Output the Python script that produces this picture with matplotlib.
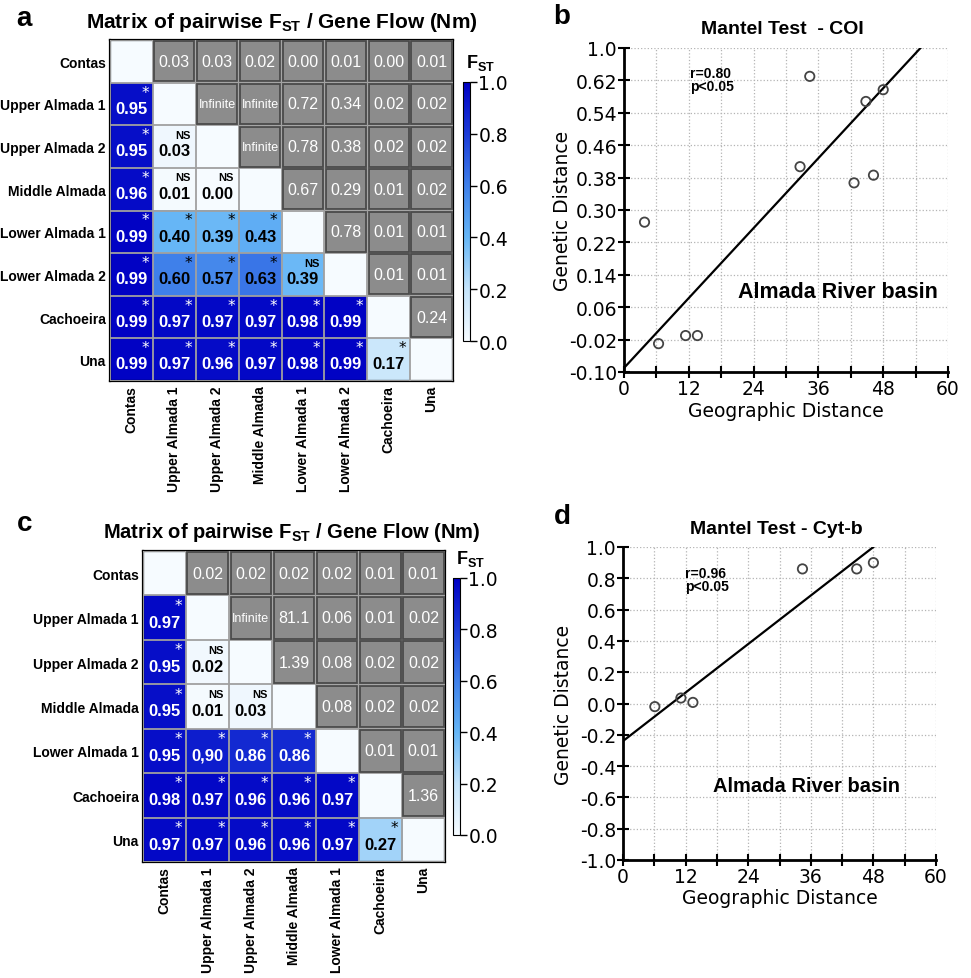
import numpy as np
import matplotlib
matplotlib.use('Agg')
import matplotlib.pyplot as plt
from matplotlib.colors import LinearSegmentedColormap
from matplotlib.patches import Rectangle

# no narrow Arial here, so use Liberation Sans a bit smaller
FAM = 'Liberation Sans'

plt.rcParams['mathtext.fontset'] = 'custom'
plt.rcParams['mathtext.rm'] = 'Liberation Sans'
plt.rcParams['mathtext.bf'] = 'Liberation Sans:bold'

# ---- panel a : COI matrix ----
pops_a = ['Contas', 'Upper Almada 1', 'Upper Almada 2', 'Middle Almada',
          'Lower Almada 1', 'Lower Almada 2', 'Cachoeira', 'Una']
# lower triangle, pairwise FST (row i, columns 0..i-1)
fst_a = [
    [],
    ['0.95'],
    ['0.95', '0.03'],
    ['0.96', '0.01', '0.00'],
    ['0.99', '0.40', '0.39', '0.43'],
    ['0.99', '0.60', '0.57', '0.63', '0.39'],
    ['0.99', '0.97', '0.97', '0.97', '0.98', '0.99'],
    ['0.99', '0.97', '0.96', '0.97', '0.98', '0.99', '0.17'],
]
sig_a = [
    [],
    ['*'],
    ['*', 'NS'],
    ['*', 'NS', 'NS'],
    ['*', '*', '*', '*'],
    ['*', '*', '*', '*', 'NS'],
    ['*', '*', '*', '*', '*', '*'],
    ['*', '*', '*', '*', '*', '*', '*'],
]
# upper triangle, gene flow Nm (row i, columns i+1..n-1)
nm_a = [
    ['0.03', '0.03', '0.02', '0.00', '0.01', '0.00', '0.01'],
    ['Infinite', 'Infinite', '0.72', '0.34', '0.02', '0.02'],
    ['Infinite', '0.78', '0.38', '0.02', '0.02'],
    ['0.67', '0.29', '0.01', '0.02'],
    ['0.78', '0.01', '0.01'],
    ['0.01', '0.01'],
    ['0.24'],
    [],
]

# ---- panel c : Cyt-b matrix ----
pops_c = ['Contas', 'Upper Almada 1', 'Upper Almada 2', 'Middle Almada',
          'Lower Almada 1', 'Cachoeira', 'Una']
fst_c = [
    [],
    ['0.97'],
    ['0.95', '0.02'],
    ['0.95', '0.01', '0.03'],
    ['0.95', '0,90', '0.86', '0.86'],
    ['0.98', '0.97', '0.96', '0.96', '0.97'],
    ['0.97', '0.97', '0.96', '0.96', '0.97', '0.27'],
]
sig_c = [
    [],
    ['*'],
    ['*', 'NS'],
    ['*', 'NS', 'NS'],
    ['*', '*', '*', '*'],
    ['*', '*', '*', '*', '*'],
    ['*', '*', '*', '*', '*', '*'],
]
nm_c = [
    ['0.02', '0.02', '0.02', '0.02', '0.01', '0.01'],
    ['Infinite', '81.1', '0.06', '0.01', '0.02'],
    ['1.39', '0.08', '0.02', '0.02'],
    ['0.08', '0.02', '0.02'],
    ['0.01', '0.01'],
    ['1.36'],
    [],
]

# ---- panel b : Mantel test COI ----
geo_b = [3.8, 6.4, 11.4, 13.6, 32.6, 34.4, 42.6, 44.8, 46.2, 48.0]
gen_b = [0.27, -0.03, -0.01, -0.01, 0.407, 0.63, 0.367, 0.568, 0.386, 0.597]
fit_b_x = [0, 54.9]
fit_b_y = [-0.09, 0.70]
yticks_b = [-0.10, -0.02, 0.06, 0.14, 0.22, 0.30, 0.38, 0.46, 0.54, 0.62, 0.70]
ylabels_b = ['-0.10', '-0.02', '0.06', '0.14', '0.22', '0.30', '0.38',
             '0.46', '0.54', '0.62', '1.0']

# ---- panel d : Mantel test Cyt-b ----
geo_d = [6.1, 11.1, 13.4, 34.4, 44.8, 48.0]
gen_d = [-0.02, 0.035, 0.007, 0.86, 0.86, 0.90]
fit_d_x = [0, 48.0]
fit_d_y = [-0.24, 1.0]
yticks_d = [-1.0, -0.8, -0.6, -0.4, -0.2, 0.0, 0.2, 0.4, 0.6, 0.8, 1.0]
ylabels_d = ['%.1f' % v for v in yticks_d]

cmap = LinearSegmentedColormap.from_list(
    'fst', [(0, '#f6fbff'), (0.2, '#c4e4fb'), (0.4, '#66b6f6'),
            (0.6, '#3f80ea'), (0.8, '#1c3cd8'), (1.0, '#0000c4')])

W, H = 971, 979
fig = plt.figure(figsize=(W / 100, H / 100), dpi=100)


def box(l, t, r, b):
    # pixel box -> figure fraction
    return [l / W, 1 - b / H, (r - l) / W, (b - t) / H]


def draw_matrix(ax, cax, pops, fst, sig, nm):
    n = len(pops)
    mat = np.full((n, n), np.nan)
    for i in range(n):
        mat[i, i] = 0
        for j, s in enumerate(fst[i]):
            mat[i, j] = float(s.replace(',', '.'))
    im = ax.imshow(np.ma.masked_invalid(mat), cmap=cmap, vmin=0, vmax=1,
                   aspect='auto')
    ax.set_facecolor('#d8d8d8')
    ax.set_xticks(np.arange(-0.5, n), minor=True)
    ax.set_yticks(np.arange(-0.5, n), minor=True)
    ax.grid(which='minor', color='#a0a0a0', lw=1.3)
    ax.set_axisbelow(False)
    ax.tick_params(which='both', length=0)
    ax.set_xticks(range(n))
    ax.set_yticks(range(n))
    ax.set_xticklabels(pops, rotation=90, fontsize=10, fontweight='bold', family=FAM)
    ax.set_yticklabels(pops, fontsize=10, fontweight='bold', family=FAM)
    ax.tick_params(axis='both', pad=3)
    for sp in ax.spines.values():
        sp.set_linewidth(1.6)

    for i in range(n):
        for j, s in enumerate(fst[i]):
            v = mat[i, j]
            c = 'white' if v > 0.7 else 'black'
            ax.text(j, i + 0.1, s, ha='center', va='center', color=c,
                    fontsize=12, fontweight='bold', family=FAM)
            if sig[i][j] == '*':
                ax.text(j + 0.32, i - 0.28, '*', ha='center', va='center',
                        color=c, fontsize=11, family='DejaVu Sans')
            else:
                ax.text(j + 0.2, i - 0.28, 'NS', ha='center', va='center',
                        color=c, fontsize=8, fontweight='bold', family=FAM)
        for k, s in enumerate(nm[i]):
            j = i + 1 + k
            ax.add_patch(Rectangle((j - 0.47, i - 0.47), 0.94, 0.94,
                                   fc='#8c8c8c', ec='#4a4a4a', lw=1.3, zorder=3))
            fs = 9 if s == 'Infinite' else 11.5
            ax.text(j, i, s, ha='center', va='center', color='white',
                    fontsize=fs, zorder=4, family=FAM)

    cb = fig.colorbar(im, cax=cax, ticks=[0, 0.2, 0.4, 0.6, 0.8, 1.0])
    cb.ax.set_yticklabels(['0.0', '0.2', '0.4', '0.6', '0.8', '1.0'])
    cb.ax.tick_params(labelsize=13.5, length=5, width=1, pad=1)
    cb.outline.set_linewidth(0.8)
    cax.text(0.5, 1.04, r'F$\mathbf{_{ST}}$', transform=cax.transAxes,
             ha='left', va='bottom', fontsize=13, fontweight='bold', family=FAM)


def draw_mantel(ax, gx, gy, fx, fy, yt, ytl, title, stat, sx, sy, bx, by, bfs):
    ax.plot(fx, fy, color='black', lw=1.6, zorder=2)
    ax.scatter(gx, gy, s=45, facecolors='none', edgecolors='#444444',
               linewidths=1.3, zorder=3, clip_on=False)
    ax.set_xlim(0, 60)
    ax.set_ylim(yt[0], yt[-1])
    ax.set_xticks(np.arange(0, 61, 12))
    ax.set_xticks(np.arange(6, 60, 12), minor=True)
    ax.set_yticks(yt)
    ax.set_yticklabels(ytl)
    ax.grid(True, which='both', ls=':', color='#b4b4b4', lw=0.9)
    for s in ['top', 'right']:
        ax.spines[s].set_visible(False)
    for s in ['left', 'bottom']:
        ax.spines[s].set_linewidth(2)
    ax.tick_params(which='both', direction='inout', length=8, width=1.5,
                   labelsize=13.5, pad=1)
    ax.text(0.5, -0.09, 'Geographic Distance', transform=ax.transAxes,
            ha='center', va='top', fontsize=13.5)
    ax.text(-0.19, 0.5, 'Genetic Distance', transform=ax.transAxes,
            ha='center', va='center', rotation=90, fontsize=13.5)
    ax.text(0.49, 1.06, title, transform=ax.transAxes, ha='center',
            va='center', fontsize=14, fontweight='bold', family=FAM)
    ax.text(sx, sy, stat, ha='left', va='top', fontsize=10,
            fontweight='bold', linespacing=0.9, family=FAM)
    ax.text(bx, by, 'Almada River basin', ha='left', va='center',
            fontsize=bfs, fontweight='bold', family=FAM)


ax_a = fig.add_axes(box(110, 41, 453, 382))
cax_a = fig.add_axes(box(463, 83, 470, 342))
draw_matrix(ax_a, cax_a, pops_a, fst_a, sig_a, nm_a)

ax_c = fig.add_axes(box(143, 552, 445, 863))
cax_c = fig.add_axes(box(453, 579, 460, 836))
draw_matrix(ax_c, cax_c, pops_c, fst_c, sig_c, nm_c)

ax_b = fig.add_axes(box(624, 49, 948, 373))
draw_mantel(ax_b, geo_b, gen_b, fit_b_x, fit_b_y, yticks_b, ylabels_b,
            'Mantel Test  - COI', 'r=0.80\np<0.05', 12.2, 0.655, 21.1, 0.098, 15.5)

ax_d = fig.add_axes(box(623, 548, 936, 861))
draw_mantel(ax_d, geo_d, gen_d, fit_d_x, fit_d_y, yticks_d, ylabels_d,
            'Mantel Test - Cyt-b', 'r=0.96\np<0.05', 11.9, 0.88, 17.2, -0.527, 14.5)

title = r'Matrix of pairwise F$\mathbf{_{ST}}$ / Gene Flow (Nm)'
fig.text(282 / W, 1 - 23 / H, title, ha='center', va='center', fontsize=15,
         fontweight='bold', family=FAM)
fig.text(292 / W, 1 - 532 / H, title, ha='center', va='center', fontsize=14.5,
         fontweight='bold', family=FAM)

for lab, x, y in [('a', 24, 19), ('b', 562, 17), ('c', 25, 524), ('d', 562, 517)]:
    fig.text(x / W, 1 - y / H, lab, ha='center', va='center', fontsize=20,
             fontweight='bold', family=FAM)

fig.savefig('out.png', dpi=100)
